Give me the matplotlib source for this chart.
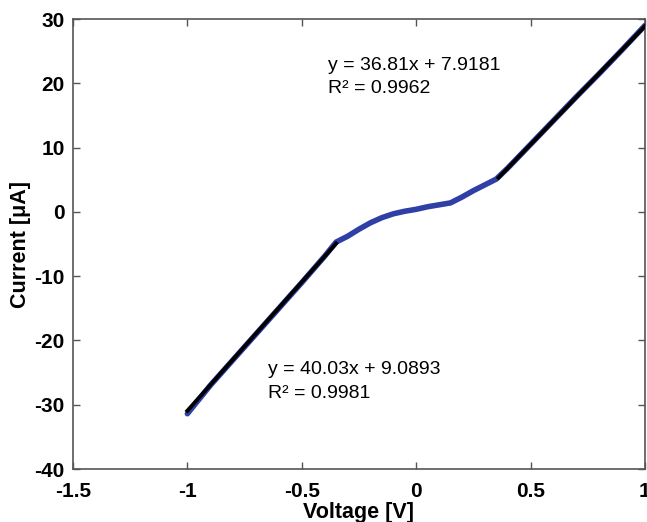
#!/usr/bin/env python3
'''
I-V curve with linear fits on both ends
'''
import numpy as np
import matplotlib.pyplot as plt

plt.ioff()

voltage = [-1.0, -0.9, -0.8, -0.7, -0.6, -0.5, -0.4, -0.35, -0.3, -0.25,
           -0.2, -0.15, -0.1, -0.05, 0.0, 0.05, 0.1, 0.15, 0.2, 0.25,
           0.3, 0.35, 0.4, 0.5, 0.6, 0.7, 0.8, 0.9, 1.0]
current = [-31.4, -27.0, -23.0, -19.0, -15.0, -11.0, -6.9, -4.7, -3.8, -2.7,
           -1.7, -0.9, -0.3, 0.1, 0.4, 0.8, 1.1, 1.4, 2.3, 3.3,
           4.2, 5.1, 6.8, 10.5, 14.2, 17.9, 21.5, 25.2, 29.0]

# linear fits: (slope, intercept, x range) as drawn
fit_neg = (40.03, 9.0893, (-1.0, -0.35))
fit_pos = (36.81, -7.9181, (0.36, 1.0))

eq_pos = ['y = 36.81x + 7.9181', 'R\u00b2 = 0.9962']
eq_neg = ['y = 40.03x + 9.0893', 'R\u00b2 = 0.9981']

plt.rcParams['font.family'] = ['Liberation Sans', 'DejaVu Sans']

fig = plt.figure(figsize=(6.47, 5.22), dpi=100)
ax = fig.add_axes([0.1128, 0.1015, 0.884, 0.862])

ax.plot(voltage, current, '-', color='#2f3fa6', lw=4,
        solid_capstyle='round', zorder=2)

for slope, icpt, (x0, x1) in (fit_neg, fit_pos):
    xs = np.array([x0, x1])
    ax.plot(xs, slope * xs + icpt, '-', color='k', lw=2.8, zorder=3)

ax.text(-0.385, 22.8, eq_pos[0], fontsize=14, va='center')
ax.text(-0.385, 19.2, eq_pos[1], fontsize=14, va='center')
ax.text(-0.647, -24.5, eq_neg[0], fontsize=14, va='center')
ax.text(-0.647, -28.3, eq_neg[1], fontsize=14, va='center')

ax.set_xlim(-1.5, 1)
ax.set_ylim(-40, 30)
ax.set_xticks([-1.5, -1, -0.5, 0, 0.5, 1])
ax.set_xticklabels(['-1.5', '-1', '-0.5', '0', '0.5', '1'])
ax.set_yticks([-40, -30, -20, -10, 0, 10, 20, 30])
ax.set_yticklabels([str(v) for v in [-40, -30, -20, -10, 0, 10, 20, 30]])
ax.tick_params(direction='in', top=True, right=True, length=5,
               width=1, color='#555555', labelsize=15)
ax.tick_params(axis='x', pad=9)
ax.tick_params(axis='y', pad=6)
for lab in ax.get_xticklabels() + ax.get_yticklabels():
    lab.set_fontweight('bold')
for sp in ax.spines.values():
    sp.set_color('#555555')
    sp.set_linewidth(1.2)

ax.set_xlabel('Voltage [V]', fontsize=15.5, fontweight='bold', labelpad=1)
ax.set_ylabel('Current [\u03bcA]', fontsize=15.5, fontweight='bold', labelpad=2)

fig.savefig('out.png', dpi=100)
plt.close(fig)
